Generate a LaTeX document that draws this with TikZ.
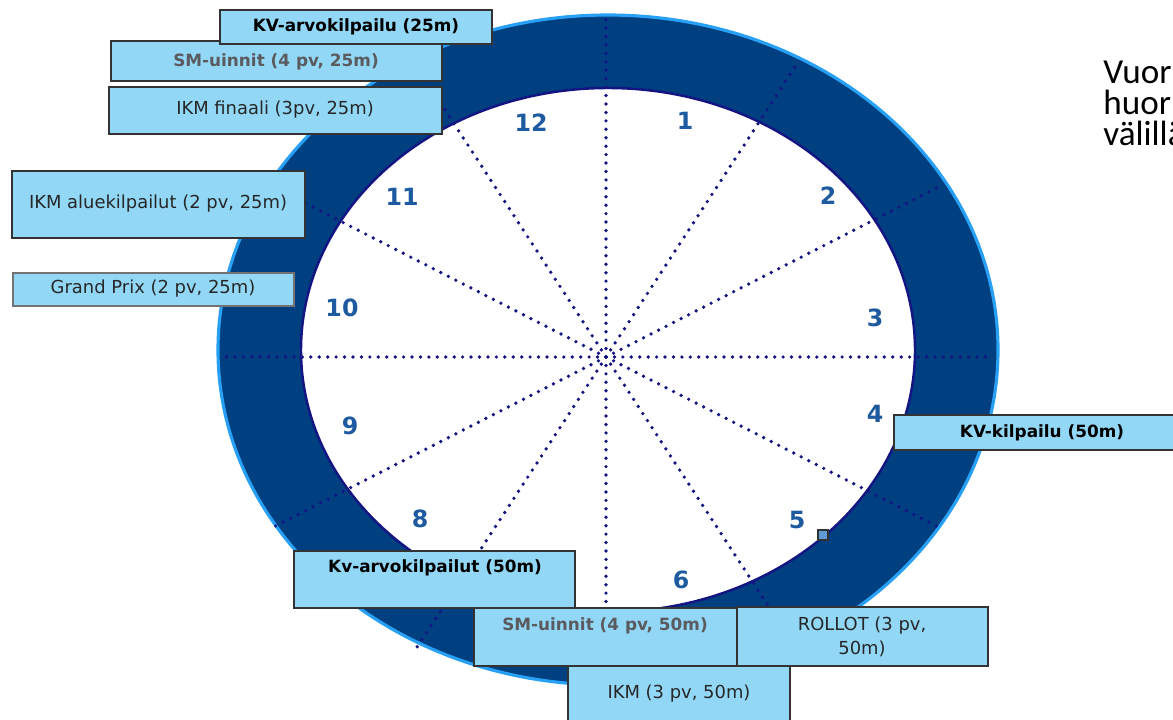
\documentclass[tikz,border=0pt]{standalone}
\usepackage{fontspec}
\setmainfont{DejaVu Sans}
\newfontfamily\sidefont{Carlito}
\usetikzlibrary{positioning}
\definecolor{ringblue}{RGB}{0,64,128}
\definecolor{rimblue}{RGB}{40,160,245}
\definecolor{navy}{RGB}{20,20,130}
\definecolor{boxblue}{RGB}{146,216,246}
\definecolor{numblue}{RGB}{30,90,160}
\definecolor{smgray}{RGB}{90,90,95}
\definecolor{pinblue}{RGB}{95,155,215}

\begin{document}
\begin{tikzpicture}
[x=0.02cm, y=-0.02cm,
event/.style={draw=black!80, fill=boxblue, line width=0.8pt},
plain/.style={text=black!85, font=\fontsize{10.2}{13.6}\selectfont, align=center},
strong/.style={text=black, font=\bfseries\fontsize{9.6}{11}\selectfont},
grayed/.style={text=smgray, font=\bfseries\fontsize{9.6}{11}\selectfont},
month/.style={text=numblue, font=\bfseries\fontsize{13.5}{15}\selectfont},
side/.style={anchor=base west, inner sep=0pt, font=\sidefont\fontsize{20}{24}\selectfont},
spoke/.style={draw=navy, line width=2.1pt, dash pattern=on 0pt off 4.8pt, line cap=round}]

\useasboundingbox (0,0) rectangle (1173,720);
\clip (0,0) rectangle (1173,720);

% ring
\coordinate (mid) at (608,350);
\coordinate (hub) at (606,357);
\fill[ringblue] (mid) ellipse [x radius=390, y radius=335];
\draw[rimblue, line width=1.8pt] (mid) ellipse [x radius=390, y radius=335];
\filldraw[fill=white, draw=navy, line width=1.4pt] (mid) ellipse [x radius=307, y radius=262];

\foreach \a in {0,30,...,330}
  \draw[spoke] (hub) -- ({606+386*cos(\a)},{357+342*sin(\a)});

% months
\node[month] (m1) at (685,121) {1};
\node[month] (m2) at (828,196) {2};
\node[month] (m3) at (875,318) {3};
\node[month] (m4) at (875,414) {4};
\node[month] (m5) at (797,520) {5};
\node[month] (m6) at (681,580) {6};
\node[month] (m8) at (420,519) {8};
\node[month] (m9) at (350,426) {9};
\node[month] (m10) at (342,308) {10};
\node[month] (m11) at (402,197) {11};
\node[month] (m12) at (531,123) {12};

\filldraw[fill=pinblue, draw=black!80, line width=0.8pt] (818,530) rectangle (828,540);

% 25m events
\draw[event] (111,41) rectangle (442,81);
\node[grayed] (sm25) at (276,62) {SM-uinnit (4 pv, 25m)};
\draw[event] (220,10) rectangle (492,44);
\node[strong] (kv25) at (356,27) {KV-arvokilpailu (25m)};
\draw[event] (109,87) rectangle (442,134);
\node[plain] (ikmfin) at (275,110) {IKM finaali (3pv, 25m)};
\draw[event] (12,171) rectangle (305,238);
\node[plain] (ikmalue) at (158,204) {IKM aluekilpailut (2 pv, 25m)};
\draw[event, draw=black!55] (13,273) rectangle (294,306);
\node[plain] (gp) at (153,289) {Grand Prix (2 pv, 25m)};

% 50m events
\draw[event] (894,415) rectangle (1195,450);
\node[strong] (kv50) at (1042,433) {KV-kilpailu (50m)};
\draw[event] (294,551) rectangle (575,608);
\node[strong] (kvarvo50) at (435,568) {Kv-arvokilpailut (50m)};
\draw[event] (474,608) rectangle (737,666);
\node[grayed] (sm50) at (605,626) {SM-uinnit (4 pv, 50m)};
\draw[event] (737,607) rectangle (988,666);
\node[plain] (rollot) at (862,637) {ROLLOT (3 pv,\\50m)};
\draw[event] (568,666) rectangle (790,730);
\node[plain] (ikm50) at (679,694) {IKM (3 pv, 50m)};

% side text
\node[side] (side1) at (1103,83) {Vuor};
\node[side] (side2) at (1103,114) {huor};
\node[side] (side3) at (1103,145) {välillä};

\end{tikzpicture}
\end{document}
